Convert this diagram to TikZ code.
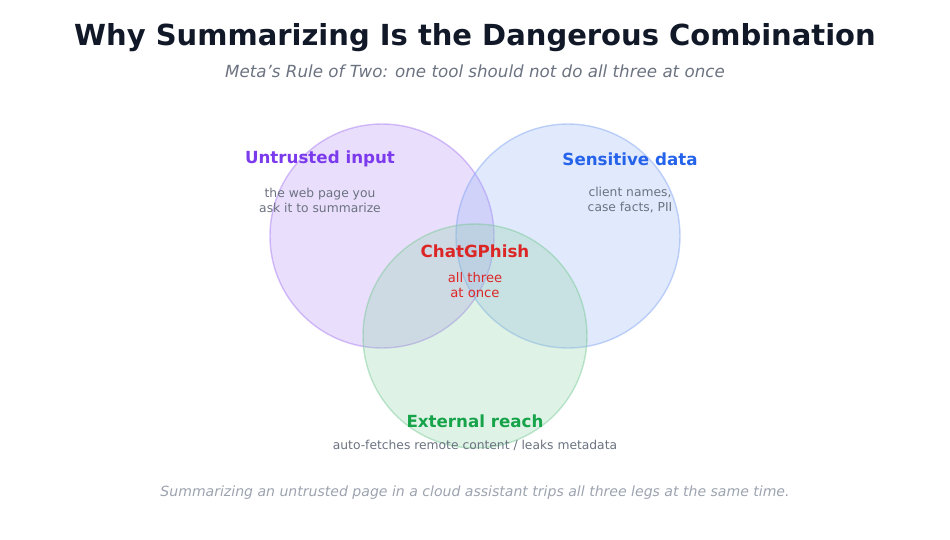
\documentclass[tikz,border=0pt]{standalone}
\usepackage{fontspec}
\setmainfont{DejaVu Sans}
\definecolor{ink}{HTML}{111827}
\definecolor{muted}{HTML}{6B7280}
\definecolor{faint}{HTML}{9CA3AF}
\definecolor{untrusted}{HTML}{7C3AED}
\definecolor{sensitive}{HTML}{2563EB}
\definecolor{reach}{HTML}{16A34A}
\definecolor{combo}{HTML}{DC2626}

\begin{document}
\begin{tikzpicture}[x=0.02cm, y=-0.02cm]

  % canvas
  \useasboundingbox (0,0) rectangle (950,539);

  \tikzset{
    legset/.style={fill opacity=0.28, draw opacity=0.45, line width=0.8pt},
    head/.style={font=\bfseries\fontsize{9.5}{11}\selectfont},
    note/.style={font=\fontsize{7}{8.5}\selectfont, text=muted, align=center}
  }

  % title
  \node[font=\bfseries\fontsize{16.5}{19}\selectfont, text=ink] (title) at (475,38) {Why Summarizing Is the Dangerous Combination};
  \node[font=\itshape\fontsize{9.5}{11}\selectfont, text=muted] (subtitle) at (475,71) {Meta's Rule of Two: one tool should not do all three at once};

  % three circles
  \filldraw[legset, fill=untrusted!60, draw=untrusted!70] (382,236) circle (112);
  \filldraw[legset, fill=sensitive!50, draw=sensitive!60] (568,236) circle (112);
  \filldraw[legset, fill=reach!50, draw=reach!60] (475,336) circle (112);

  % labels
  \node[head, text=untrusted] (untrusted) at (320,159) {Untrusted input};
  \node[note] (untrustednote) at (320,200) {the web page you\\ask it to summarize};
  \node[head, text=sensitive] (sensitive) at (630,159) {Sensitive data};
  \node[note] (sensitivenote) at (630,200) {client names,\\case facts, PII};
  \node[head, text=combo] (combo) at (475,251) {ChatGPhish};
  \node[note, text=combo, font=\fontsize{7.5}{9}\selectfont] (combonote) at (475,285) {all three\\at once};
  \node[head, text=reach] (reach) at (475,421) {External reach};
  \node[note] (reachnote) at (475,445) {auto-fetches remote content / leaks metadata};

  % footer
  \node[font=\itshape\fontsize{8}{10}\selectfont, text=faint] (footer) at (475,493) {Summarizing an untrusted page in a cloud assistant trips all three legs at the same time.};

\end{tikzpicture}
\end{document}
